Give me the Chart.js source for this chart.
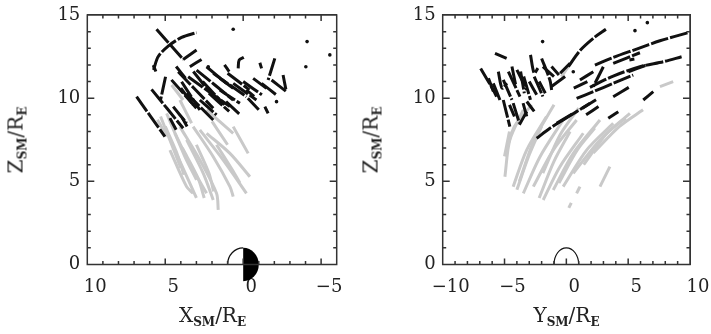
<!DOCTYPE html>
<html><head><meta charset="utf-8">
<script src="https://cdn.jsdelivr.net/npm/chart.js@4/dist/chart.umd.min.js"></script>
<style>
html,body{margin:0;padding:0;background:#fff;width:711px;height:334px;overflow:hidden;position:relative;font-family:"DejaVu Serif",serif;}
.pane{position:absolute;top:0;height:334px;}
.frame{position:absolute;border:1.5px solid #333;box-sizing:border-box;pointer-events:none;}
.t{position:absolute;white-space:nowrap;color:#222;font-size:20px;line-height:20px;}
.t sub{font-size:12px;font-weight:bold;vertical-align:baseline;position:relative;top:4px;}
.h{transform:translateX(-50%);}
.v{transform:translate(-50%,-50%) rotate(-90deg);}
</style></head><body>
<div class="pane" id="p1" style="left:0;width:360px"><canvas id="c1" width="360" height="334"></canvas></div>
<div class="pane" id="p2" style="left:360px;width:351px"><canvas id="c2" width="351" height="334"></canvas></div>
<div class="t h" style="left:212.5px;top:305px">X<sub>SM</sub>/R<sub>E</sub></div>
<div class="t h" style="left:566.5px;top:305px">Y<sub>SM</sub>/R<sub>E</sub></div>
<div class="t v" style="left:17px;top:140px">Z<sub>SM</sub>/R<sub>E</sub></div>
<div class="t v" style="left:372px;top:140px">Z<sub>SM</sub>/R<sub>E</sub></div>
<script>
// ---- tick labels ----
const xzTicks = [10, 5, 0, -5];
const yzTicks = [-10, -5, 0, 5, 10];
const zTicks = [0, 5, 10, 15];
const earthRadius = 1;

// ---- X-Z panel: trajectory pieces [X, Z] ----
const xzBlack = [
  [[5.56,14.14],[3.85,12.33]],
  [[5.75,11.7],[5.45,12.5],[4.81,13.13],[3.95,13.65],[2.99,13.94]],
  [[3.85,12.33],[2.99,12.89]],
  [[3.42,11.89],[2.67,12.33]],
  [[5.77,11.99],[5.6,11.6]],
  [[6.84,10.09],[5.02,7.69]],
  [[5.88,10.53],[3.85,8.19]],
  [[4.98,11.29],[5.3,9.89]],
  [[4.17,11.59],[1.92,9.39]],
  [[3.95,10.99],[2.78,9.29]],
  [[4.49,9.49],[3.63,8.49]],
  [[3.53,11.29],[0.85,9.49]],
  [[2.99,11.69],[0.64,9.89]],
  [[2.35,11.89],[1.07,10.89]],
  [[1.92,11.49],[-0.21,10.09]],
  [[3.63,10.29],[1.92,8.69]],
  [[2.78,9.89],[1.71,8.99]],
  [[1.5,10.49],[0.21,9.69]],
  [[0.64,10.89],[-0.85,9.89]],
  [[0.32,11.79],[0.26,12.29],[-0.04,12.45]],
  [[1.5,11.2],[0.64,10.6]],
  [[-1.07,12.13],[-1.18,11.79]],
  [[-2.03,12.39],[-1.6,11.09]],
  [[-0.64,11.19],[-1.5,10.59]],
  [[-1.18,10.89],[-2.14,10.19]],
  [[-1.82,11.09],[-2.78,10.39]],
  [[-2.56,11.39],[-2.74,10.53]],
  [[-1.39,9.49],[-1.6,9.09]],
  [[1.1,9.8],[0.2,9.0]],
  [[-0.2,10.5],[-0.7,10.1]],
  [[4.7,8.8],[4.3,8.1]],
  [[3.9,8.8],[3.6,8.3]],
  [[4.6,11.1],[3.0,9.4]],
  [[3.2,11.6],[2.0,10.2]],
  [[2.6,11.0],[1.2,9.6]],
  [[4.0,10.6],[3.2,9.6]],
  [[2.2,10.3],[0.9,9.2]],
  [[1.0,11.5],[-0.4,10.5]],
  [[0.0,11.0],[-1.2,10.2]],
  [[-0.3,10.0],[-1.0,9.3]],
  [[4.3,11.9],[3.7,11.2]],
  [[1.2,12.0],[0.9,11.6]]
];
const xzGray = [
  [[4.91,9.09],[3.74,6.49],[2.99,5.09]],
  [[4.38,7.89],[3.31,5.88],[2.35,4.28]],
  [[4.06,8.29],[2.78,6.28],[1.71,4.28],[1.6,3.28]],
  [[3.63,7.49],[2.56,5.48],[1.92,3.88]],
  [[3.21,8.29],[1.92,6.48],[0.85,4.68],[0.64,4.08]],
  [[2.78,8.09],[1.28,6.28],[-0.21,4.28]],
  [[2.35,7.89],[0.85,6.68],[-0.43,5.28]],
  [[0.64,8.29],[-0.32,6.68]],
  [[4.06,9.89],[3.31,8.49]],
  [[4.59,10.79],[3.85,9.89]],
  [[2.35,9.29],[0.64,7.89]],
  [[4.7,6.88],[3.63,4.68],[3.21,4.28]],
  [[4.2,6.5],[3.0,4.0]],
  [[1.71,7.2],[0.64,5.6],[0.21,4.9]],
  [[5.3,8.9],[4.5,7.0],[4.0,5.8]],
  [[5.0,8.3],[4.3,6.8],[3.8,5.4]],
  [[3.9,7.0],[2.9,5.2],[2.5,4.0]],
  [[3.0,7.2],[2.2,5.5],[1.9,4.4]],
  [[2.0,8.6],[1.0,7.2]],
  [[5.5,8.7],[4.9,7.7]]
];
const xzDots = [[0.64,14.14],[-4.1,13.4],[-5.56,12.6],[-4.02,11.89],[-2.14,9.79],[2.24,11.89]];

// ---- Y-Z panel: trajectory pieces [Y, Z] ----
const yzBlack = [
  [[0.16,11.89],[1.1,12.86],[2.18,13.6],[3.2,14.14]],
  [[2.31,11.99],[3.79,12.45],[5.68,12.95],[7.57,13.45],[9.86,13.94]],
  [[3.79,12.09],[5.95,12.73]],
  [[1.91,10.65],[3.79,11.33],[5.95,11.89],[7.84,12.19],[9.32,12.49]],
  [[5.01,11.59],[6.49,11.99]],
  [[5.1,12.3],[5.5,12.35]],
  [[0.83,9.99],[2.18,10.39],[3.79,10.89],[5.41,11.39]],
  [[-0.26,8.69],[0.83,9.19],[1.91,9.69]],
  [[-2.4,7.59],[-1.33,8.19],[-0.26,8.69]],
  [[-0.79,8.49],[0.56,9.09]],
  [[3.79,10.09],[5.14,10.69]],
  [[3.39,8.79],[4.2,9.19]],
  [[6.22,9.89],[7.03,10.39]],
  [[1.1,11.09],[2.18,11.59]],
  [[2.99,11.89],[2.18,10.69]],
  [[0.6,10.6],[1.7,11.0]],
  [[1.6,9.0],[2.6,9.5]],
  [[-6.93,11.79],[-5.91,10.49],[-5.64,10.09]],
  [[-5.77,12.69],[-4.83,12.39]],
  [[-5.91,10.89],[-5.37,9.89]],
  [[-5.1,11.1],[-4.4,9.9]],
  [[-4.69,11.59],[-3.75,10.09]],
  [[-4.0,11.7],[-3.2,10.5]],
  [[-3.45,11.3],[-2.9,9.9]],
  [[-2.6,11.3],[-1.9,10.1]],
  [[-2.0,12.39],[-1.33,11.09],[-1.19,10.49]],
  [[-1.9,11.9],[-1.0,11.3]],
  [[-5.1,9.89],[-4.57,8.29]],
  [[-4.3,9.7],[-3.8,8.5]],
  [[-3.5,9.7],[-3.2,8.9]],
  [[-3.8,8.4],[-3.2,9.2]],
  [[-1.2,10.7],[-0.1,11.3]],
  [[-0.5,11.5],[0.3,12.1]],
  [[1.3,9.4],[2.4,9.9]],
  [[-6.3,11.2],[-5.9,10.4]],
  [[-5.5,11.6],[-5.2,10.6],[-4.8,10.9]],
  [[-4.4,11.9],[-4.1,10.8]],
  [[-3.7,11.6],[-3.4,10.3]],
  [[-2.9,12.6],[-2.6,11.5],[-2.3,11.8]],
  [[-3.0,11.0],[-2.4,10.2]],
  [[-4.6,9.6],[-4.2,8.9]],
  [[-3.2,9.8],[-2.6,9.2]],
  [[-2.2,11.0],[-1.7,10.3]],
  [[-1.2,11.9],[-0.6,11.4]]
];
const yzGray = [
  [[-4.97,5.28],[-4.57,7.49],[-3.48,9.29]],
  [[-4.3,4.68],[-3.21,6.88],[-1.6,8.89]],
  [[-3.48,4.28],[-2.13,6.48],[-0.26,8.69]],
  [[-2.67,4.68],[-1.06,6.88],[0.83,8.69]],
  [[-1.87,3.88],[-0.52,5.88],[1.37,7.89]],
  [[-1.06,4.48],[0.56,6.68],[2.72,8.69]],
  [[-0.26,4.68],[1.64,6.88],[3.79,8.49]],
  [[0.56,5.48],[2.72,7.49],[5.14,9.09]],
  [[0.83,4.28],[1.1,4.68]],
  [[2.72,4.68],[3.52,5.88]],
  [[2.18,6.7],[4.3,8.3],[6.2,9.3]],
  [[7.57,10.69],[8.64,10.99]],
  [[-0.4,11.3],[0.16,11.89]],
  [[-4.8,7.0],[-4.2,8.3],[-2.8,9.6]],
  [[-3.8,5.0],[-2.6,7.5],[-1.0,9.6]],
  [[-1.9,5.5],[-0.5,7.8],[1.0,9.4]],
  [[-5.0,6.5],[-4.6,8.0]],
  [[-4.0,4.5],[-3.0,6.6],[-2.0,8.3]],
  [[-2.2,4.0],[-1.0,6.2],[0.3,8.0]],
  [[-0.6,4.9],[0.9,6.9],[2.3,8.2]],
  [[1.4,6.0],[3.3,7.9],[4.8,8.8]],
  [[0.2,3.4],[0.4,3.7]]
];
const yzDots = [[-1.92,13.4],[5.55,14.06],[6.55,14.54],[0.56,11.59]];

const BLACK = '#111111', GRAY = '#c9c9c9';
const PAD_TOP = 15, X_AXIS_H = 69.5;

function segSets(segs, color, dash) {
  return segs.map(s => ({
    data: s.map(p => ({x: p[0], y: p[1]})),
    showLine: true, borderColor: color, borderWidth: 3, pointRadius: 0,
    borderDash: dash, borderCapStyle: 'butt', borderJoinStyle: 'round', tension: 0.3
  }));
}
function dotSet(dots) {
  return {data: dots.map(p => ({x: p[0], y: p[1]})), showLine: false,
    pointRadius: 1.8, backgroundColor: BLACK, borderWidth: 0};
}
const fmt = v => v < 0 ? '\u2212' + (-v) : String(v);

function drawDeco(chart, earth, box) {
  const ctx = chart.ctx, x = chart.scales.x, y = chart.scales.y;
  const cx = x.getPixelForValue(0), cy = y.getPixelForValue(0);
  const rx = Math.abs(x.getPixelForValue(earthRadius) - cx);
  const ry = Math.abs(y.getPixelForValue(earthRadius) - cy);
  ctx.save();
  ctx.setLineDash([]);
  ctx.lineWidth = 1.2; ctx.strokeStyle = '#111';
  if (earth === 'split') {
    ctx.beginPath(); ctx.moveTo(cx, cy);
    ctx.ellipse(cx, cy, rx, ry, 0, Math.PI, 1.5 * Math.PI);
    ctx.closePath(); ctx.fillStyle = '#fff'; ctx.fill();
    ctx.beginPath(); ctx.ellipse(cx, cy, rx, ry, 0, Math.PI, 1.5 * Math.PI); ctx.stroke();
    ctx.beginPath(); ctx.moveTo(cx, cy - ry);
    ctx.ellipse(cx, cy, rx, ry, 0, -0.5 * Math.PI, 0.5 * Math.PI);
    ctx.closePath(); ctx.fillStyle = '#000'; ctx.fill();
  } else {
    ctx.beginPath(); ctx.ellipse(cx, cy, rx, ry, 0, Math.PI, 2 * Math.PI); ctx.stroke();
  }
  // inward ticks on all four sides, positioned by the scales
  const L0 = box.left, R0 = box.right, T0 = box.top, B0 = box.bottom;
  ctx.strokeStyle = '#333'; ctx.lineWidth = 1.5;
  ctx.beginPath();
  ctx.moveTo(L0, T0); ctx.lineTo(R0, T0); ctx.lineTo(R0, B0); ctx.lineTo(L0, B0); ctx.closePath();
  const xlo = Math.ceil(Math.min(box.xmin, box.xmax)), xhi = Math.floor(Math.max(box.xmin, box.xmax));
  for (let v = xlo; v <= xhi; v++) {
    const p = x.getPixelForValue(v), len = v % 5 === 0 ? 6 : 3.5;
    ctx.moveTo(p, B0); ctx.lineTo(p, B0 - len);
    ctx.moveTo(p, T0); ctx.lineTo(p, T0 + len);
  }
  for (let v = 0; v <= 15; v++) {
    const p = y.getPixelForValue(v), len = v % 5 === 0 ? 7 : 3.5;
    ctx.moveTo(L0, p); ctx.lineTo(L0 + len, p);
    ctx.moveTo(R0, p); ctx.lineTo(R0 - len, p);
  }
  ctx.stroke();
  ctx.restore();
}

function makeChart(id, paneId, black, gray, dots, xmin, xmax, rev, xticks, yWidth, padRight, earth) {
  const tickFont = {family: 'DejaVu Serif', size: 18};
  const cv = document.getElementById(id);
  const box = {left: yWidth, right: cv.width - padRight, top: PAD_TOP, bottom: cv.height - X_AXIS_H, xmin, xmax};
  // frame box as a positioned element as well (same rectangle as the layout's plot area)
  const fr = document.createElement('div');
  fr.className = 'frame';
  fr.style.left = (box.left - 0.75) + 'px'; fr.style.top = (box.top - 0.75) + 'px';
  fr.style.width = (box.right - box.left + 1.5) + 'px'; fr.style.height = (box.bottom - box.top + 1.5) + 'px';
  document.getElementById(paneId).appendChild(fr);
  return new Chart(cv, {
    type: 'scatter',
    data: {datasets: [dotSet(dots), ...segSets(black, BLACK, [18, 2]), ...segSets(gray, GRAY, [])]},
    options: {
      responsive: false, animation: false, events: [],
      layout: {padding: {left: 0, right: padRight, top: PAD_TOP, bottom: 0}},
      plugins: {legend: {display: false}, tooltip: {enabled: false}},
      scales: {
        x: {type: 'linear', min: xmin, max: xmax, reverse: rev,
          grid: {display: false, drawTicks: false}, border: {display: false},
          afterBuildTicks: s => { s.ticks = xticks.map(v => ({value: v})); },
          afterFit: s => { s.height = X_AXIS_H; s.paddingLeft = 0; s.paddingRight = 0; },
          ticks: {font: tickFont, color: '#222', padding: 12, labelOffset: 8, maxRotation: 0, autoSkip: false, callback: fmt}},
        y: {type: 'linear', min: 0, max: 15,
          grid: {display: false, drawTicks: false}, border: {display: false},
          afterBuildTicks: s => { s.ticks = zTicks.map(v => ({value: v})); },
          afterFit: s => { s.width = yWidth; s.paddingTop = 0; s.paddingBottom = 0; },
          ticks: {font: tickFont, color: '#222', padding: 7, autoSkip: false, callback: fmt}}
      }
    },
    plugins: [{id: 'deco' + id, afterDatasetsDraw(c) { drawDeco(c, earth, box); }}]
  });
}
makeChart('c1', 'p1', xzBlack, xzGray, xzDots, -6, 10, true, xzTicks, 87.3, 23.3, 'split');
makeChart('c2', 'p2', yzBlack, yzGray, yzDots, -10, 10, false, yzTicks, 82.7, 21, 'outline');
</script>
</body></html>
